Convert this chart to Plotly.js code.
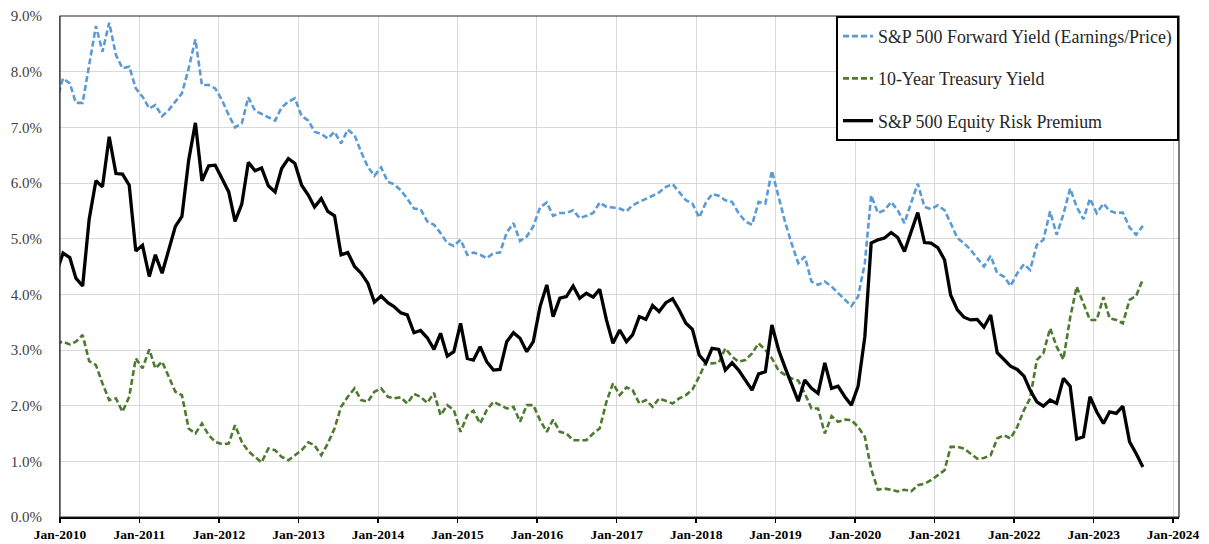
<!DOCTYPE html>
<html>
<head>
<meta charset="utf-8">
<script src="https://cdn.plot.ly/plotly-3.0.1.min.js"></script>
<style>
  html, body { margin: 0; padding: 0; background: #ffffff; }
  #chart { width: 1209px; height: 544px; }
</style>
</head>
<body>
<div id="chart"></div>
<script>
// Monthly observations (mid-month), first point Dec-2009 (partly clipped by the axis), last Aug-2023
const firstYear = 2009;
const firstMonth = 12;

const forwardYield = [
  7.46,
  7.88, 7.79, 7.44, 7.44, 8.15, 8.82, 8.36, 8.88, 8.30, 8.06,
  8.09, 7.70, 7.55, 7.34, 7.40, 7.20, 7.31, 7.46, 7.61, 8.06,
  8.58, 7.76, 7.76, 7.70, 7.49, 7.22, 7.00, 7.07, 7.54, 7.30,
  7.24, 7.18, 7.12, 7.36, 7.46, 7.52, 7.20, 7.12, 6.92, 6.88,
  6.80, 6.92, 6.71, 6.96, 6.86, 6.56, 6.29, 6.13, 6.28, 6.02,
  5.98, 5.87, 5.72, 5.54, 5.53, 5.31, 5.25, 5.10, 4.92, 4.87,
  4.98, 4.71, 4.75, 4.71, 4.65, 4.74, 4.75, 5.11, 5.28, 4.96,
  5.04, 5.22, 5.56, 5.65, 5.41, 5.46, 5.46, 5.51, 5.37, 5.41,
  5.46, 5.65, 5.57, 5.56, 5.54, 5.49, 5.60, 5.66, 5.71, 5.77,
  5.83, 5.93, 5.98, 5.84, 5.69, 5.63, 5.38, 5.65, 5.80, 5.77,
  5.69, 5.66, 5.46, 5.31, 5.25, 5.66, 5.63, 6.22, 5.75, 5.28,
  4.92, 4.56, 4.68, 4.23, 4.17, 4.23, 4.14, 4.03, 3.91, 3.79,
  3.96, 4.56, 5.78, 5.46, 5.51, 5.66, 5.51, 5.28, 5.65, 5.99,
  5.57, 5.53, 5.60, 5.51, 5.28, 5.01, 4.92, 4.80, 4.65, 4.50,
  4.69, 4.38, 4.32, 4.15, 4.38, 4.54, 4.44, 4.89, 4.98, 5.49,
  5.07, 5.44, 5.90, 5.57, 5.35, 5.72, 5.46, 5.63, 5.50, 5.46,
  5.47, 5.20, 5.07, 5.23
];

const treasuryYield = [
  3.12,
  3.15, 3.10, 3.15, 3.27, 2.80, 2.73, 2.40, 2.10, 2.13, 1.89,
  2.16, 2.85, 2.67, 3.01, 2.67, 2.79, 2.52, 2.25, 2.19, 1.59,
  1.50, 1.68, 1.47, 1.35, 1.31, 1.32, 1.65, 1.35, 1.18, 1.08,
  0.98, 1.23, 1.20, 1.08, 1.02, 1.11, 1.20, 1.34, 1.29, 1.11,
  1.32, 1.59, 1.98, 2.16, 2.31, 2.10, 2.07, 2.25, 2.31, 2.16,
  2.13, 2.15, 2.04, 2.21, 2.16, 2.05, 2.23, 1.83, 2.01, 1.92,
  1.53, 1.83, 1.91, 1.68, 1.92, 2.07, 2.01, 1.95, 1.98, 1.71,
  2.01, 2.01, 1.74, 1.53, 1.75, 1.53, 1.50, 1.38, 1.38, 1.38,
  1.50, 1.59, 2.07, 2.40, 2.19, 2.33, 2.28, 2.04, 2.10, 1.98,
  2.13, 2.09, 2.04, 2.13, 2.19, 2.29, 2.52, 2.79, 2.76, 2.77,
  3.03, 2.88, 2.79, 2.82, 2.94, 3.12, 3.00, 2.85, 2.63, 2.55,
  2.49, 2.45, 2.22, 1.95, 1.95, 1.50, 1.81, 1.71, 1.75, 1.74,
  1.62, 1.44, 0.86, 0.49, 0.51, 0.49, 0.46, 0.49, 0.46, 0.57,
  0.60, 0.66, 0.75, 0.84, 1.26, 1.26, 1.23, 1.14, 1.05, 1.06,
  1.11, 1.41, 1.47, 1.41, 1.62, 1.92, 2.13, 2.82, 2.94, 3.39,
  3.06, 2.83, 3.58, 4.14, 3.84, 3.54, 3.54, 3.95, 3.57, 3.54,
  3.48, 3.90, 3.97, 4.27
];

const equityRiskPremium = [
  4.38,
  4.74, 4.66, 4.29, 4.15, 5.35, 6.04, 5.93, 6.83, 6.17, 6.16,
  5.96, 4.78, 4.88, 4.32, 4.71, 4.38, 4.80, 5.22, 5.40, 6.41,
  7.08, 6.04, 6.31, 6.32, 6.08, 5.84, 5.31, 5.62, 6.37, 6.22,
  6.27, 5.95, 5.84, 6.26, 6.44, 6.35, 5.96, 5.78, 5.57, 5.72,
  5.49, 5.41, 4.71, 4.75, 4.50, 4.38, 4.20, 3.86, 3.97, 3.85,
  3.78, 3.67, 3.63, 3.31, 3.35, 3.22, 3.01, 3.30, 2.89, 2.97,
  3.48, 2.85, 2.82, 3.06, 2.79, 2.64, 2.65, 3.15, 3.31, 3.21,
  2.97, 3.15, 3.78, 4.17, 3.60, 3.93, 3.96, 4.15, 3.93, 4.02,
  3.95, 4.09, 3.54, 3.12, 3.36, 3.15, 3.27, 3.60, 3.55, 3.80,
  3.69, 3.85, 3.92, 3.72, 3.48, 3.37, 2.91, 2.77, 3.03, 3.01,
  2.64, 2.77, 2.64, 2.46, 2.28, 2.57, 2.61, 3.45, 3.00, 2.67,
  2.40, 2.08, 2.46, 2.31, 2.22, 2.77, 2.31, 2.35, 2.16, 2.01,
  2.35, 3.24, 4.92, 4.98, 5.01, 5.11, 5.02, 4.77, 5.13, 5.47,
  4.93, 4.92, 4.84, 4.62, 3.99, 3.72, 3.59, 3.54, 3.55, 3.41,
  3.63, 2.95, 2.83, 2.71, 2.65, 2.53, 2.28, 2.07, 1.99, 2.10,
  2.04, 2.49, 2.35, 1.40, 1.44, 2.16, 1.89, 1.68, 1.89, 1.86,
  1.99, 1.35, 1.14, 0.90
];

const seriesNames = [
  'S&P 500 Forward Yield (Earnings/Price)',
  '10-Year Treasury Yield',
  'S&P 500 Equity Risk Premium'
];

const tickYears = [2010, 2011, 2012, 2013, 2014, 2015, 2016, 2017, 2018, 2019, 2020, 2021, 2022, 2023, 2024];

// x categories: consecutive months (mid-month dates)
function monthDates(count) {
  const out = [];
  let y = firstYear, m = firstMonth;
  for (let i = 0; i < count; i++) {
    out.push(y + '-' + String(m).padStart(2, '0') + '-15');
    m++;
    if (m > 12) { m = 1; y++; }
  }
  return out;
}
const dates = monthDates(forwardYield.length);

const serif = '"Liberation Serif", "DejaVu Serif", serif';

const traces = [
  {
    x: dates, y: forwardYield, name: seriesNames[0], type: 'scatter', mode: 'lines',
    legendgroup: 'a',
    line: { color: '#5B9BD5', width: 2.6, dash: '6px,3px' }
  },
  {
    x: dates, y: treasuryYield, name: seriesNames[1], type: 'scatter', mode: 'lines',
    legendgroup: 'b',
    line: { color: '#4E7A30', width: 2.6, dash: '6px,3px' }
  },
  {
    x: dates, y: equityRiskPremium, name: seriesNames[2], type: 'scatter', mode: 'lines',
    legendgroup: 'c',
    line: { color: '#000000', width: 3.3 }
  }
];

const layout = {
  width: 1209,
  height: 544,
  margin: { l: 60, r: 30, t: 16, b: 27 },
  paper_bgcolor: '#ffffff',
  plot_bgcolor: '#ffffff',
  font: { family: serif, color: '#262626' },
  showlegend: true,
  legend: {
    x: 1, xanchor: 'right', y: 1, yanchor: 'top',
    bgcolor: '#ffffff', bordercolor: '#000000', borderwidth: 2,
    font: { family: serif, size: 17.9, color: '#262626' },
    tracegroupgap: 16,
    traceorder: 'grouped',
    entrywidth: 326
  },
  xaxis: {
    type: 'date',
    range: ['2010-01-01', '2024-01-28'],
    tickvals: tickYears.map(y => y + '-01-01'),
    ticktext: tickYears.map(y => 'Jan-' + y),
    tickfont: { family: serif, size: 13.5, color: '#000000', weight: 'bold' },
    ticks: 'outside', ticklen: 4, tickwidth: 1.5, tickcolor: '#000000',
    showline: true, linecolor: '#000000', linewidth: 2,
    showgrid: true, gridcolor: '#d9d9d9', gridwidth: 1,
    zeroline: false,
    ticklabelstandoff: 0
  },
  yaxis: {
    range: [0, 9],
    tickvals: [0, 1, 2, 3, 4, 5, 6, 7, 8, 9],
    ticktext: ['0.0%', '1.0%', '2.0%', '3.0%', '4.0%', '5.0%', '6.0%', '7.0%', '8.0%', '9.0%'],
    tickfont: { family: serif, size: 15, color: '#404040' },
    ticks: '',
    showline: true, linecolor: '#8c8c8c', linewidth: 1,
    showgrid: true, gridcolor: '#d9d9d9', gridwidth: 1,
    zeroline: false,
    ticklabelstandoff: 14
  },
  shapes: [
    {
      type: 'rect', xref: 'paper', yref: 'paper', x0: 0, x1: 1, y0: 0, y1: 1,
      line: { color: '#262626', width: 1.2 }, fillcolor: 'rgba(0,0,0,0)', layer: 'above'
    }
  ]
};

Plotly.newPlot('chart', traces, layout, { displayModeBar: false, staticPlot: true });
</script>
</body>
</html>
